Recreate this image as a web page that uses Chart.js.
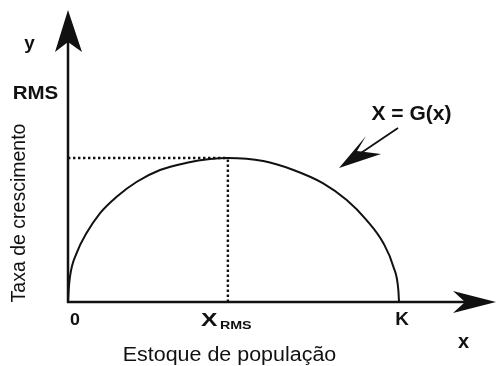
<!DOCTYPE html>
<html>
<head>
<meta charset="utf-8">
<script src="https://cdn.jsdelivr.net/npm/chart.js@4/dist/chart.umd.min.js"></script>
<style>
html,body{margin:0;padding:0;background:#fff;}
canvas{display:block;}
</style>
</head>
<body>
<canvas id="c" width="497" height="366"></canvas>
<script>
// Data (x: stock, 0..K=100; y: growth rate, RMS=100)
const curveX = [0, 0.2, 0.6, 2.6, 5.6, 9.7, 14.7, 20.8, 27.8, 35.9, 42.9, 48.3, 59.0, 68.1, 77.1, 84.2, 90.2, 95.3, 98.3, 99.8, 100];
const curveY = [0, 8, 17.6, 34.0, 47.9, 61.8, 73.1, 83.5, 91.7, 96.7, 99.3, 100, 97.9, 91.7, 82.4, 70.8, 56.9, 40.8, 24.5, 8.3, 0];
const xRms = 48.3;
const yRms = 100;
const K = 100;
const xTickLabels = ['0', 'X', 'K'];
const xTickValues = [0, xRms, K];
const xMax = 129.3;
const yMax = 202.8;

const curve = curveX.map((x, i) => ({x: x, y: curveY[i]}));
const hDots = [{x: 0, y: yRms}, {x: xRms, y: yRms}];
const vDots = [{x: xRms, y: 0}, {x: xRms, y: yRms}];

const INK = '#111';
const FAM = '"Liberation Sans", Arial, sans-serif';

function arrowHead(ctx, tip, w1, notch, w2) {
  ctx.beginPath();
  ctx.moveTo(tip[0], tip[1]);
  ctx.lineTo(w1[0], w1[1]);
  ctx.lineTo(notch[0], notch[1]);
  ctx.lineTo(w2[0], w2[1]);
  ctx.closePath();
  ctx.fill();
}

// text with horizontal stretch sx; (x, y) = anchor, baseline alphabetic
function txt(ctx, s, x, y, font, sx, align) {
  ctx.save();
  ctx.font = font;
  ctx.textAlign = align || 'center';
  ctx.textBaseline = 'alphabetic';
  ctx.translate(x, y);
  ctx.scale(sx, 1);
  ctx.fillText(s, 0, 0);
  ctx.restore();
}

const decor = {
  id: 'decor',
  afterDatasetsDraw(chart) {
    const ctx = chart.ctx;
    const xs = chart.scales.x, ys = chart.scales.y;
    const ox = xs.getPixelForValue(0), oy = ys.getPixelForValue(0);
    const xEnd = xs.getPixelForValue(xMax), yEnd = ys.getPixelForValue(yMax);
    ctx.save();
    ctx.strokeStyle = INK; ctx.fillStyle = INK;
    ctx.lineWidth = 2.5;
    // axes
    ctx.beginPath();
    ctx.moveTo(ox, oy + 1); ctx.lineTo(ox, yEnd + 20);
    ctx.moveTo(ox - 1, oy); ctx.lineTo(xEnd - 20, oy);
    ctx.stroke();
    // arrow heads
    arrowHead(ctx, [ox, yEnd], [ox - 13, yEnd + 42], [ox, yEnd + 32], [ox + 14, yEnd + 42]);
    arrowHead(ctx, [xEnd, oy], [xEnd - 43, oy - 11], [xEnd - 31, oy], [xEnd - 43, oy + 11]);
    // annotation arrow
    ctx.lineWidth = 1.8;
    ctx.beginPath();
    ctx.moveTo(398, 128); ctx.lineTo(352, 159);
    ctx.stroke();
    arrowHead(ctx, [339, 168], [366, 136], [357, 151], [381, 154]);

    // texts
    txt(ctx, 'y', 29.5, 49, 'bold 18px ' + FAM, 1.05);
    txt(ctx, 'RMS', 35.5, 99, 'bold 19px ' + FAM, 1.08);
    txt(ctx, 'X = G(x)', 411.5, 120, 'bold 20px ' + FAM, 1.05);
    const by = oy + 23;
    txt(ctx, xTickLabels[0], xs.getPixelForValue(xTickValues[0]) + 7, by, 'bold 17px ' + FAM, 1.05);
    const xr = xs.getPixelForValue(xTickValues[1]);
    txt(ctx, xTickLabels[1], xr - 27, by + 0.5, 'bold 19px ' + FAM, 1.3, 'left');
    txt(ctx, 'RMS', xr - 8, by + 3.5, 'bold 11px ' + FAM, 1.3, 'left');
    txt(ctx, xTickLabels[2], xs.getPixelForValue(xTickValues[2]) + 3, by, 'bold 18px ' + FAM, 1.05);
    txt(ctx, 'x', 463.5, 347.5, 'bold 20px ' + FAM, 1.0);
    txt(ctx, 'Estoque de população', 229.5, 361, '19.5px ' + FAM, 1.1);
    ctx.save();
    ctx.font = '19.5px ' + FAM;
    ctx.textAlign = 'center';
    ctx.textBaseline = 'alphabetic';
    ctx.translate(24.5, 213);
    ctx.rotate(-Math.PI / 2);
    ctx.fillText('Taxa de crescimento', 0, 0);
    ctx.restore();
    ctx.restore();
  }
};

new Chart(document.getElementById('c'), {
  type: 'scatter',
  data: {
    datasets: [
      {data: curve, showLine: true, borderColor: INK, borderWidth: 2, pointRadius: 0, cubicInterpolationMode: 'monotone', fill: false},
      {data: hDots, showLine: true, borderColor: INK, borderWidth: 2.4, borderDash: [2.4, 2.6], pointRadius: 0},
      {data: vDots, showLine: true, borderColor: INK, borderWidth: 2.4, borderDash: [2.4, 2.6], pointRadius: 0}
    ]
  },
  options: {
    responsive: false,
    animation: false,
    devicePixelRatio: 1,
    layout: {padding: {left: 68, top: 10, right: 1, bottom: 64}},
    plugins: {legend: {display: false}, tooltip: {enabled: false}},
    scales: {
      x: {type: 'linear', min: 0, max: xMax, display: false},
      y: {type: 'linear', min: 0, max: yMax, display: false}
    }
  },
  plugins: [decor]
});
</script>
</body>
</html>
